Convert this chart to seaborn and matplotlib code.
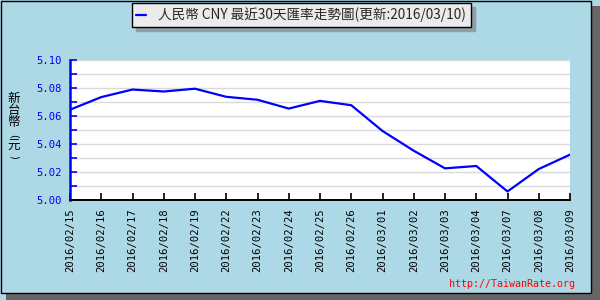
import matplotlib
matplotlib.use("Agg")
import matplotlib.pyplot as plt
from matplotlib.patches import Rectangle
from matplotlib.ticker import MultipleLocator, FormatStrFormatter
import seaborn as sns
import pandas as pd

dates = ["2016/02/15", "2016/02/16", "2016/02/17", "2016/02/18", "2016/02/19",
         "2016/02/22", "2016/02/23", "2016/02/24", "2016/02/25", "2016/02/26",
         "2016/03/01", "2016/03/02", "2016/03/03", "2016/03/04", "2016/03/07",
         "2016/03/08", "2016/03/09"]
rates = [5.0645, 5.0735, 5.0789, 5.0775, 5.0795,
         5.0737, 5.0716, 5.0653, 5.0708, 5.0677,
         5.0493, 5.0352, 5.0226, 5.0243, 5.0061,
         5.0221, 5.0324]
series_label = "人民幣 CNY 最近30天匯率走勢圖(更新:2016/03/10)"
y_label_chars = ["新", "台", "幣", "(", "元", ")"]
watermark = "http://TaiwanRate.org"

sns.set_theme(style="white")
plt.rcParams['font.family'] = ['Noto Sans CJK TC', 'DejaVu Sans']

W, H = 600, 300
fig = plt.figure(figsize=(6, 3), dpi=100)
fig.patch.set_facecolor('#ADD8E6')

def fx(px):
    return px / W

def fy(py):
    return 1 - py / H

# shadow strips and border
fig.patches.append(Rectangle((fx(591), 0), fx(9), fy(6), transform=fig.transFigure,
                             facecolor='#666666', edgecolor='none', zorder=-3))
fig.patches.append(Rectangle((fx(6), 0), fx(594), 1 - fy(293), transform=fig.transFigure,
                             facecolor='#666666', edgecolor='none', zorder=-3))
fig.patches.append(Rectangle((fx(0.5), fy(293)), fx(590.5), fy(0.5) - fy(293),
                             transform=fig.transFigure, facecolor='#ADD8E6',
                             edgecolor='black', linewidth=1.0, zorder=-2))

ax = fig.add_axes([fx(70), fy(200), fx(500), fy(60) - fy(200)])
ax.set_facecolor('white')

df = pd.DataFrame({"idx": list(range(len(dates))), "rate": rates})
sns.lineplot(data=df, x="idx", y="rate", ax=ax, color='#0000FF', linewidth=1.6,
             label=series_label)

ax.set_xlim(0, len(dates) - 1)
ax.set_ylim(5.00, 5.10)
ax.yaxis.set_major_locator(MultipleLocator(0.02))
ax.yaxis.set_minor_locator(MultipleLocator(0.01))
ax.yaxis.set_major_formatter(FormatStrFormatter('%.2f'))
ax.set_xticks(list(range(len(dates))))
ax.set_xticklabels(dates, rotation=90, family='DejaVu Sans Mono', fontsize=7.6,
                   color='black')
for lbl in ax.get_yticklabels():
    lbl.set_family('DejaVu Sans Mono')
ax.tick_params(axis='y', which='both', direction='in', length=5, width=1.2,
               color='#0000FF', labelcolor='#0000FF', labelsize=7.6, pad=6,
               left=True)
ax.tick_params(axis='x', which='both', direction='in', length=5, width=1.2,
               color='black', pad=6, bottom=True)
ax.grid(True, which='both', axis='y', color='#DADADA', linewidth=1.0)
ax.set_axisbelow(True)
for s in ['top', 'right']:
    ax.spines[s].set_visible(False)
ax.spines['left'].set_color('#0000FF')
ax.spines['left'].set_linewidth(1.8)
ax.spines['bottom'].set_color('black')
ax.spines['bottom'].set_linewidth(1.4)
ax.set_xlabel("")
ax.set_ylabel("")

# vertical y-axis title, one character per slot (brackets turned sideways)
char_y = [98.5, 110.5, 122, 135.5, 146, 157]
for ch, cy in zip(y_label_chars, char_y):
    if ch in "()":
        fig.text(fx(14), fy(cy), ch, ha='center', va='center', fontsize=7.0,
                 family='DejaVu Sans', rotation=270, rotation_mode='anchor',
                 color='black')
    else:
        fig.text(fx(14), fy(cy), ch, ha='center', va='center', fontsize=9.0,
                 color='black')

fig.text(fx(575), fy(287), watermark, ha='right', va='baseline', color='red',
         family='DejaVu Sans Mono', fontsize=7.2)

leg = ax.legend(loc='upper left', bbox_to_anchor=(fx(132), fy(3)),
                bbox_transform=fig.transFigure, frameon=True, fancybox=False,
                shadow={'ox': 3, 'oy': -3, 'color': '#8E9EA4', 'alpha': 1},
                prop={'family': ['Noto Sans CJK TC', 'DejaVu Sans'], 'size': 9.8},
                handlelength=0.7, handletextpad=0.9, borderpad=0.33,
                borderaxespad=0)
leg.get_frame().set_facecolor('#EBEBEB')
leg.get_frame().set_edgecolor('black')
leg.get_frame().set_linewidth(1.0)
leg.get_frame().set_alpha(1)

fig.savefig('out.png', dpi=100, facecolor=fig.get_facecolor())
